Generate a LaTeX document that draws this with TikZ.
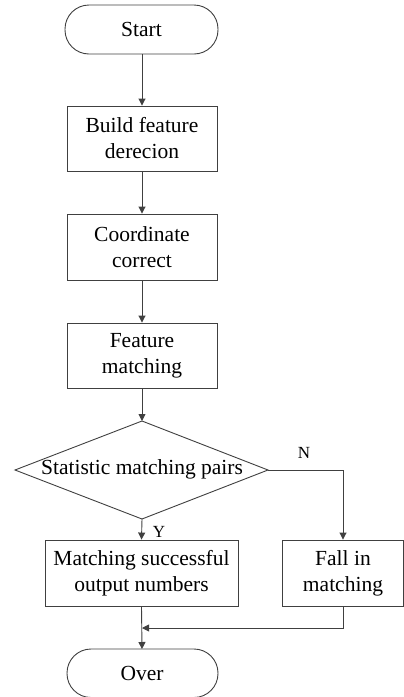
\documentclass[tikz,border=0pt]{standalone}
\usepackage{fontspec}
\setmainfont{Liberation Serif}
\usetikzlibrary{arrows.meta,shapes.geometric,calc}
\begin{document}
\begin{tikzpicture}[x=1pt,y=-1pt,
  every node/.style={font=\fontsize{21.5}{26}\selectfont, text=black},
  line/.style={draw=black!75, line width=0.9pt},
  arr/.style={line, -{Triangle[length=7pt,width=7pt]}},
  term/.style={line, rounded corners=24pt},
  proc/.style={line}]
\useasboundingbox (0,0) rectangle (404,697);
% terminals
\draw[term] (65,5) rectangle (218,54);
\node (start) at (141.5,29.5) {Start};
\coordinate (startb) at (142,54);
\node[proc, draw, minimum width=150pt, minimum height=65pt, align=center] (b1) at (142,138.5) {Build feature\\derecion};
\node[proc, draw, minimum width=150pt, minimum height=66pt, align=center] (b2) at (142,247) {Coordinate\\correct};
\node[proc, draw, minimum width=150pt, minimum height=65pt, align=center] (b3) at (142,355.5) {Feature\\matching};
\coordinate (dt) at (142,421);
\coordinate (dl) at (15,470);
\coordinate (dr) at (268,470);
\coordinate (db) at (142,519);
\draw[line] (dt) -- (dr) -- (db) -- (dl) -- cycle;
\node (dec) at (142,469) {Statistic matching pairs};
\node[proc, draw, minimum width=193pt, minimum height=66pt, align=center] (b4) at (141.5,573) {Matching successful\\output numbers};
\node[proc, draw, minimum width=121pt, minimum height=66pt, align=center] (b5) at (343,573) {Fall in\\matching};
\draw[term] (67,649) rectangle (218,697.5);
\node (over) at (142,673) {Over};
\coordinate (overt) at (142,649);
% connectors
\draw[arr] (startb) -- (b1.north);
\draw[arr] (b1.south) -- (b2.north);
\draw[arr] (b2.south) -- (b3.north);
\draw[arr] (b3.south) -- (dt);
\draw[arr] (db) -- (b4.north);
\draw[arr] (dr) -| (b5.north);
\coordinate (j) at (142,628);
\draw[arr] (b5.south) |- (j);
\draw[arr] (b4.south) -- (overt);
\node at (304,453) {\fontsize{17}{20}\selectfont N};
\node at (159,532) {\fontsize{17}{20}\selectfont Y};
\end{tikzpicture}
\end{document}
